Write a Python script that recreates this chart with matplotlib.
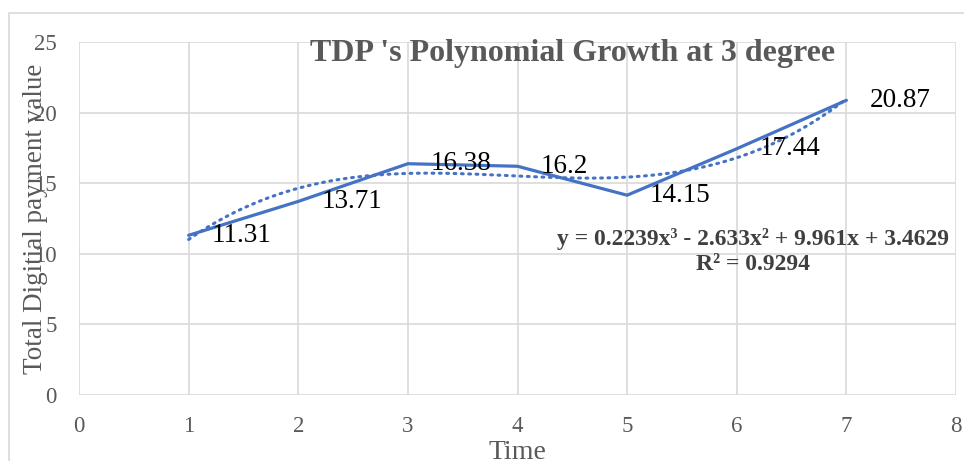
import numpy as np
import matplotlib
matplotlib.use("Agg")
import matplotlib.pyplot as plt
from matplotlib.patches import Rectangle

# data
time = [1, 2, 3, 4, 5, 6, 7]
tdp = [11.31, 13.71, 16.38, 16.2, 14.15, 17.44, 20.87]
labels = ["11.31", "13.71", "16.38", "16.2", "14.15", "17.44", "20.87"]
x_ticks = [0, 1, 2, 3, 4, 5, 6, 7, 8]
y_ticks = [0, 5, 10, 15, 20, 25]

plt.rcParams['font.family'] = ['Liberation Serif', 'DejaVu Serif']

blue = '#4472C4'
grid = '#D9D9D9'
grey = '#595959'

fig = plt.figure(figsize=(9.64, 4.61), dpi=100)
fig.patches.append(Rectangle((9 / 964, -0.05), 1.0, (461 - 13) / 461 + 0.05,
                             transform=fig.transFigure, fill=False,
                             edgecolor=grid, linewidth=1.2))

ax = fig.add_axes([79 / 964, 1 - 395 / 461, 877 / 964, 353 / 461])

ax.plot(time, tdp, color=blue, linewidth=2.3, solid_capstyle='round', zorder=3)

# 3rd degree polynomial trendline
coef = np.polyfit(time, tdp, 3)
xs = np.linspace(time[0], time[-1], 200)
ax.plot(xs, np.polyval(coef, xs), color=blue, linewidth=2.2,
        linestyle=(0, (0.6, 1.8)), dash_capstyle='round', zorder=3)

for x, y, t in zip(time, tdp, labels):
    ax.annotate(t, (x, y), xytext=(16.5, 0), textcoords='offset points',
                ha='left', va='center', fontsize=19.5, color='black')

ax.set_xlim(0, 8)
ax.set_ylim(0, 25)
ax.set_xticks(x_ticks)
ax.set_yticks(y_ticks)
ax.grid(True, color=grid, linewidth=1.2)
ax.set_axisbelow(True)
for s in ax.spines.values():
    s.set_visible(False)
ax.tick_params(length=0, labelsize=16.5, labelcolor=grey)
ax.tick_params(axis='x', pad=15)
ax.tick_params(axis='y', pad=16)

ax.set_ylabel('Total Digitial payment value', fontsize=19.5, color=grey)
ax.yaxis.set_label_coords(-0.05, 0.5)
ax.yaxis.label.set_va('center')
ax.set_xlabel('Time', fontsize=20, color=grey)
ax.xaxis.set_label_coords(0.5, -0.163)
ax.xaxis.label.set_va('center')

fig.text(573 / 964, 1 - 54 / 461, "TDP 's Polynomial Growth at 3 degree",
         ha='center', va='center', fontsize=23, fontweight='bold', color=grey)

ax.text(753 / 964, 1 - 252 / 461,
        "y = 0.2239x³ - 2.633x² + 9.961x + 3.4629\nR² = 0.9294",
        transform=fig.transFigure, ha='center', va='center', fontsize=17,
        fontweight='bold', color='#404040', linespacing=1.25)

fig.savefig('out.png', dpi=100)
